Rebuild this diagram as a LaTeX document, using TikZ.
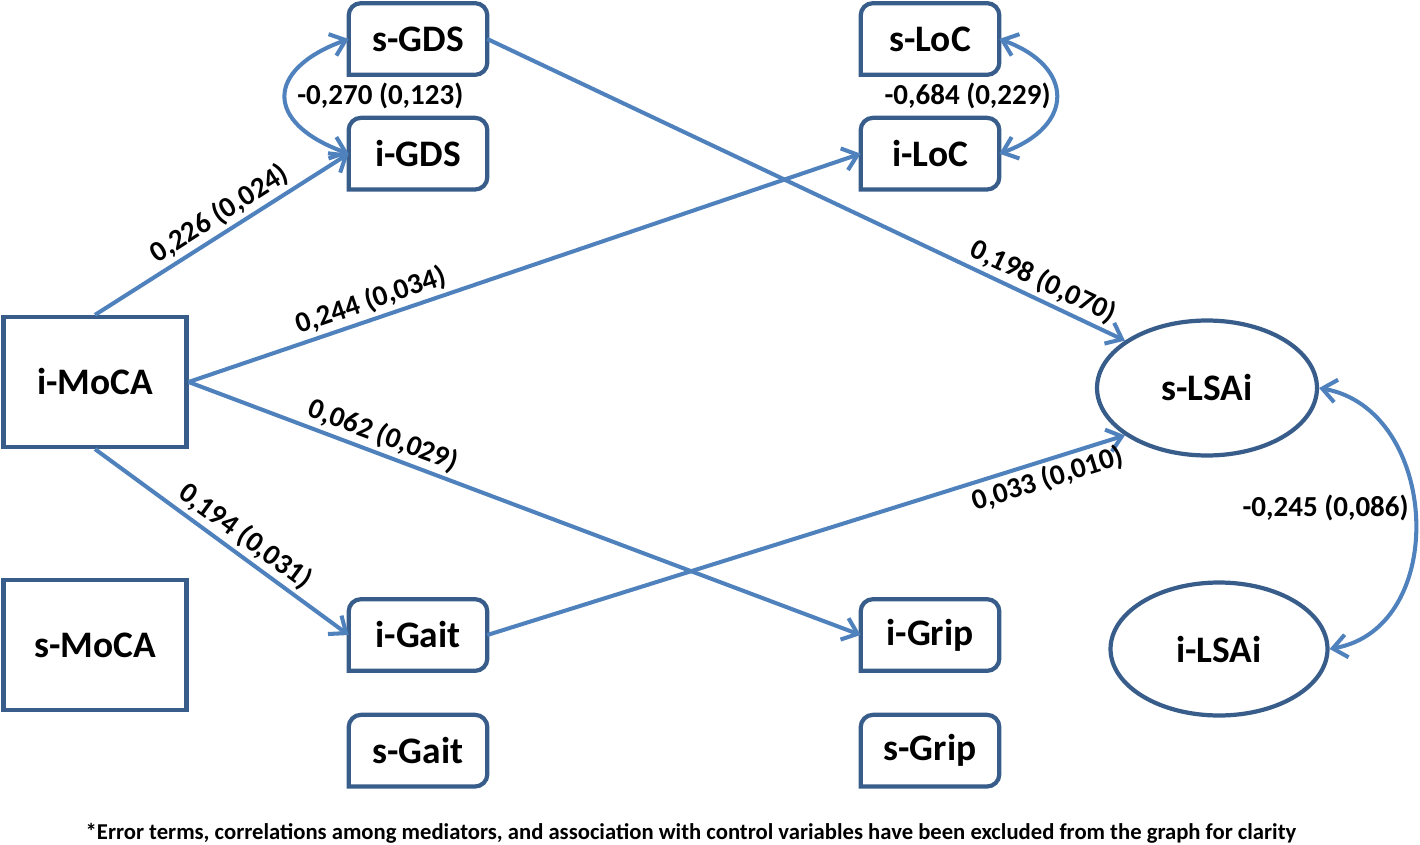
\documentclass[tikz,border=0pt]{standalone}
\usepackage{fontspec}
\setmainfont{Carlito}
\usetikzlibrary{positioning}
\usetikzlibrary{arrows.meta}
\usetikzlibrary{shapes.geometric}
\definecolor{boxblue}{RGB}{56,93,138}
\definecolor{linkblue}{RGB}{79,129,189}
\tikzset{
 varbox/.style={minimum width=2.76cm,minimum height=1.42cm,inner sep=0pt,font=\bfseries\fontsize{21.3}{24}\selectfont},
 bigbox/.style={draw=boxblue,line width=2.4pt,minimum width=3.66cm,minimum height=2.6cm,font=\bfseries\fontsize{21.3}{24}\selectfont},
 latent/.style={ellipse,draw=boxblue,line width=2.4pt,minimum width=4.4cm,minimum height=2.7cm,font=\bfseries\fontsize{21.3}{24}\selectfont},
 link/.style={draw=linkblue,line width=2.3pt,-{Straight Barb[length=8pt,width=13pt]}},
 covar/.style={draw=linkblue,line width=2.3pt,{Straight Barb[length=8pt,width=13pt]}-{Straight Barb[length=8pt,width=13pt]}},
 coef/.style={font=\bfseries\fontsize{16.5}{18}\selectfont,inner sep=2pt}
}

\begin{document}
\begin{tikzpicture}[x=0.02cm,y=-0.02cm]
 \useasboundingbox (0,0) rectangle (1420,845);
 % observed variables
 \node[bigbox] (iMoCA) at (95,382) {i-MoCA};
 \node[bigbox] (sMoCA) at (95,645) {s-MoCA};
 \node[varbox] (sGDS) at (418,39) {s-GDS};
 \node[varbox,below=0.86cm of sGDS] (iGDS) {i-GDS};
 \node[varbox] (sLoC) at (930,39) {s-LoC};
 \node[varbox,below=0.86cm of sLoC] (iLoC) {i-LoC};
 \node[varbox] (iGait) at (418,635) {i-Gait};
 \node[varbox,below=0.88cm of iGait] (sGait) {s-Gait};
 \node[varbox] (iGrip) at (930,635) {i-Grip};
 \node[varbox,below=0.88cm of iGrip] (sGrip) {s-Grip};
 \foreach \n in {sGDS,iGDS,sLoC,iLoC,iGait,sGait,iGrip,sGrip}
  \draw[boxblue,line width=2.4pt,rounded corners=7pt,line cap=rect] (\n.south west) -- (\n.north west) -- (\n.north east) -- (\n.south east) -- (\n.south west);
 % outcome
 \node[latent] (sLSAi) at (1207,388) {s-LSAi};
 \node[latent,minimum width=4.34cm,minimum height=2.66cm] (iLSAi) at (1219,649) {i-LSAi};

 % paths
 \draw[link] (iMoCA.north) -- node[coef,sloped,above,pos=.53]{0,226 (0,024)} (iGDS.west);
 \draw[link] (iMoCA.east) -- node[coef,sloped,above,pos=.28]{0,244 (0,034)} (iLoC.west);
 \draw[link] (iMoCA.east) -- node[coef,sloped,above,pos=.28]{0,062 (0,029)} (iGrip.west);
 \draw[link] (iMoCA.south) -- node[coef,sloped,above,pos=.55]{0,194 (0,031)} (iGait.west);
 \draw[link] (sGDS.east) -- node[coef,sloped,above,pos=.86]{0,198 (0,070)} (sLSAi.150);
 \draw[link] (iGait.east) -- node[coef,sloped,below,pos=.87]{0,033 (0,010)} (sLSAi.210);

 % covariances
 \draw[covar] (sGDS.west) to[out=200,in=160,looseness=2] node[coef,right,pos=.5,xshift=3.5pt]{-0,270 (0,123)} (iGDS.west);
 \draw[covar] (sLoC.east) to[out=-20,in=20,looseness=1.8] node[coef,left,pos=.5]{-0,684 (0,229)} (iLoC.east);
 \draw[covar] (sLSAi.east) to[out=-10,in=10,looseness=1.2] node[coef,left,pos=.47]{-0,245 (0,086)} (iLSAi.east);

 \node[font=\bfseries\fontsize{12.9}{14}\selectfont] (note) at (691,833) {*Error terms, correlations among mediators, and association with control variables have been excluded from the graph for clarity};
\end{tikzpicture}
\end{document}
